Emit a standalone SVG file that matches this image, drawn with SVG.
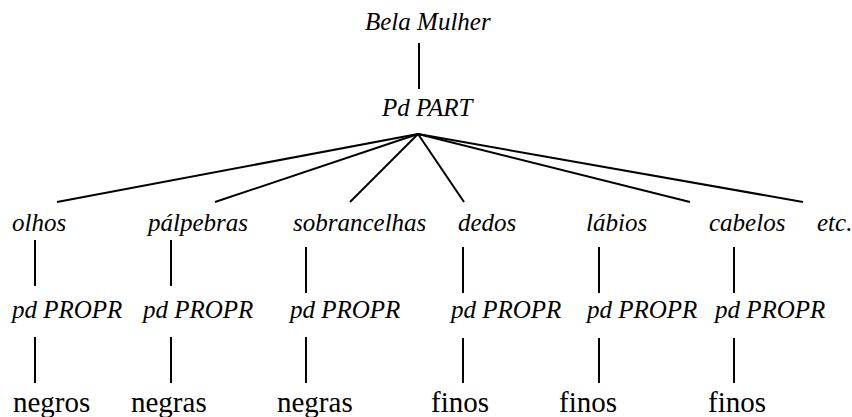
<svg xmlns="http://www.w3.org/2000/svg" width="852" height="417" viewBox="0 0 852 417">
<rect width="852" height="417" fill="#fff"/>
<g id="connectors" stroke="#000" stroke-width="2" fill="none">
<line x1="419" y1="43" x2="419" y2="89"/>
<line x1="418" y1="134" x2="57" y2="202"/>
<line x1="418" y1="134" x2="215" y2="202"/>
<line x1="418" y1="134" x2="350" y2="202"/>
<line x1="418" y1="134" x2="464" y2="202"/>
<line x1="418" y1="134" x2="690" y2="202"/>
<line x1="418" y1="134" x2="803" y2="202"/>
<line x1="35" y1="240" x2="35" y2="286"/>
<line x1="171" y1="240" x2="171" y2="286"/>
<line x1="306" y1="247" x2="306" y2="293"/>
<line x1="463" y1="247" x2="463" y2="293"/>
<line x1="599" y1="247" x2="599" y2="293"/>
<line x1="734" y1="247" x2="734" y2="293"/>
<line x1="35" y1="337" x2="35" y2="383"/>
<line x1="171" y1="337" x2="171" y2="383"/>
<line x1="306" y1="337" x2="306" y2="383"/>
<line x1="463" y1="338" x2="463" y2="383"/>
<line x1="599" y1="338" x2="599" y2="383"/>
<line x1="734" y1="338" x2="734" y2="383"/>
</g>
<g id="bela-mulher"><text x="365" y="30" font-family="Liberation Serif, Tinos, serif" font-style="italic" font-size="25">Bela Mulher</text></g>
<g id="pd-part"><text x="382" y="116" font-family="Liberation Serif, Tinos, serif" font-style="italic" font-size="25">Pd PART</text></g>
<g id="olhos"><text x="12" y="231" font-family="Liberation Serif, Tinos, serif" font-style="italic" font-size="25">olhos</text></g>
<g id="palpebras"><text x="148" y="231" font-family="Liberation Serif, Tinos, serif" font-style="italic" font-size="25">pálpebras</text></g>
<g id="sobrancelhas"><text x="293" y="231" font-family="Liberation Serif, Tinos, serif" font-style="italic" font-size="25">sobrancelhas</text></g>
<g id="dedos"><text x="458" y="231" font-family="Liberation Serif, Tinos, serif" font-style="italic" font-size="25">dedos</text></g>
<g id="labios"><text x="586" y="231" font-family="Liberation Serif, Tinos, serif" font-style="italic" font-size="25">lábios</text></g>
<g id="cabelos"><text x="709" y="231" font-family="Liberation Serif, Tinos, serif" font-style="italic" font-size="25">cabelos</text></g>
<g id="etc"><text x="817" y="231" font-family="Liberation Serif, Tinos, serif" font-style="italic" font-size="25">etc.</text></g>
<g id="propr1"><text x="12" y="318" font-family="Liberation Serif, Tinos, serif" font-style="italic" font-size="25">pd PROPR</text></g>
<g id="propr2"><text x="143" y="318" font-family="Liberation Serif, Tinos, serif" font-style="italic" font-size="25">pd PROPR</text></g>
<g id="propr3"><text x="290" y="318" font-family="Liberation Serif, Tinos, serif" font-style="italic" font-size="25">pd PROPR</text></g>
<g id="propr4"><text x="451" y="318" font-family="Liberation Serif, Tinos, serif" font-style="italic" font-size="25">pd PROPR</text></g>
<g id="propr5"><text x="587" y="318" font-family="Liberation Serif, Tinos, serif" font-style="italic" font-size="25">pd PROPR</text></g>
<g id="propr6"><text x="715" y="318" font-family="Liberation Serif, Tinos, serif" font-style="italic" font-size="25">pd PROPR</text></g>
<g id="negros"><text x="13" y="412" font-family="Liberation Serif, Tinos, serif" font-size="29">negros</text></g>
<g id="negras1"><text x="131" y="412" font-family="Liberation Serif, Tinos, serif" font-size="29">negras</text></g>
<g id="negras2"><text x="277" y="412" font-family="Liberation Serif, Tinos, serif" font-size="29">negras</text></g>
<g id="finos1"><text x="431" y="412" font-family="Liberation Serif, Tinos, serif" font-size="29">finos</text></g>
<g id="finos2"><text x="559" y="412" font-family="Liberation Serif, Tinos, serif" font-size="29">finos</text></g>
<g id="finos3"><text x="708" y="412" font-family="Liberation Serif, Tinos, serif" font-size="29">finos</text></g>
</svg>
